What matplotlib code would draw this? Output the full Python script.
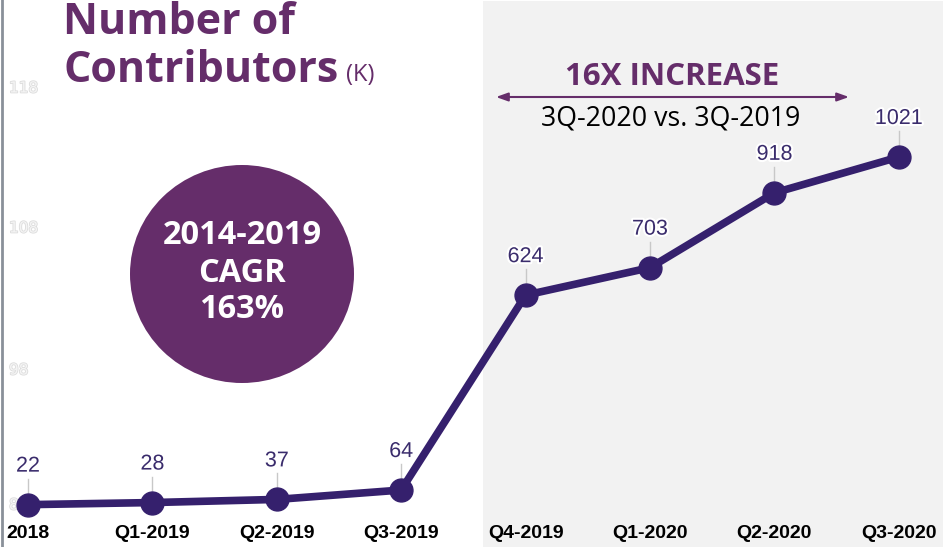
import matplotlib
matplotlib.use("Agg")
import matplotlib.pyplot as plt
import matplotlib.patheffects as pe
from matplotlib.patches import Ellipse

categories = ["2018", "Q1-2019", "Q2-2019", "Q3-2019", "Q4-2019", "Q1-2020", "Q2-2020", "Q3-2020"]
values = [22, 28, 37, 64, 624, 703, 918, 1021]
faint_ticks = [88, 98, 108, 118]

W, H = 943, 547
fig = plt.figure(figsize=(W / 100, H / 100), dpi=100)
ax = fig.add_axes([0, 0, 1, 1])

# pixel mapping helpers (axis limits)
x0_px, dx_px = 28, 124.4
y0_px, dy_px = 512.3, 0.348
ax.set_xlim(-x0_px / dx_px, (W - x0_px) / dx_px)
ax.set_ylim(-(H - y0_px) / dy_px, y0_px / dy_px)
ax.axis("off")

def px_to_x(px):
    return (px - x0_px) / dx_px

def px_to_y(py):
    return (y0_px - py) / dy_px

purple = "#652d6a"
line_col = "#35206d"
label_col = "#3a2c6c"

# grey shaded region
ax.axvspan(px_to_x(483), px_to_x(W + 5), ymin=0, ymax=1 - 1 / H, color="#f2f2f2", zorder=0, lw=0)

# left border line
ax.axvline(px_to_x(1.5), color="#8a9099", lw=2, zorder=1)

# faint y ticks
faint_py = [505, 370, 228, 88]
for t, py in zip(faint_ticks, faint_py):
    ax.text(px_to_x(9), px_to_y(py), str(t), fontsize=11, color="#f4f4f4", ha="left", va="center",
            family="Liberation Sans Narrow",
            path_effects=[pe.withStroke(linewidth=1.2, foreground="#dcdcdc")], zorder=1)

xs = list(range(len(categories)))
ax.plot(xs, values, color=line_col, lw=5.5, solid_capstyle="round", zorder=4)
ax.plot(xs, values, "o", color=line_col, ms=16.5, zorder=5)

# value labels with leader lines
for x, v in zip(xs, values):
    top = v + 26 / dy_px
    ax.plot([x, x], [v, top], color="#c8c8c8", lw=1, zorder=3)
    ax.text(x, top + 2 / dy_px, str(v), ha="center", va="bottom", fontsize=15.5, color=label_col,
            family=["Liberation Sans Narrow", "Liberation Sans"],
            path_effects=[pe.withStroke(linewidth=3, foreground="white")], zorder=6)

# x tick labels
ax.set_xticks([])
for x, c in zip(xs, categories):
    ax.text(x, px_to_y(533), c, ha="center", va="center", fontsize=14, fontweight="bold",
            color="black", family="Liberation Sans", zorder=6)

# title
ax.text(px_to_x(63), px_to_y(23), "Number of", fontsize=31, fontweight="bold", color=purple,
        family="Open Sans", ha="left", va="center", zorder=6)
ax.text(px_to_x(63), px_to_y(71), "Contributors", fontsize=31, fontweight="bold", color=purple,
        family="Open Sans", ha="left", va="center", zorder=6)
ax.text(px_to_x(346), px_to_y(75), "(K)", fontsize=17, color=purple,
        family="Open Sans", ha="left", va="center", zorder=6)

# circle
cx, cy = px_to_x(242), px_to_y(274)
ax.add_patch(Ellipse((cx, cy), width=224 / dx_px, height=218 / dy_px, color=purple, zorder=2, lw=0))
for txt, py in [("2014-2019", 236), ("CAGR", 273), ("163%", 309)]:
    ax.text(cx, px_to_y(py), txt, ha="center", va="center", fontsize=23.5, fontweight="bold",
            color="white", family="Open Sans", zorder=6)

# increase annotation
ax.text(px_to_x(672), px_to_y(77), "16X INCREASE", ha="center", va="center", fontsize=22.5,
        fontweight="bold", color=purple, family="Open Sans", zorder=6)
ax.annotate("", xy=(px_to_x(496), px_to_y(97)), xytext=(px_to_x(849), px_to_y(97)),
            arrowprops=dict(arrowstyle="<|-|>,head_length=0.7,head_width=0.25", color=purple, lw=1.5,
                            shrinkA=0, shrinkB=0), zorder=6)
ax.text(px_to_x(671), px_to_y(118), "3Q-2020 vs. 3Q-2019", ha="center", va="center", fontsize=19.3,
        color="black", family="Open Sans", zorder=6)

fig.savefig("out.png", dpi=100)
